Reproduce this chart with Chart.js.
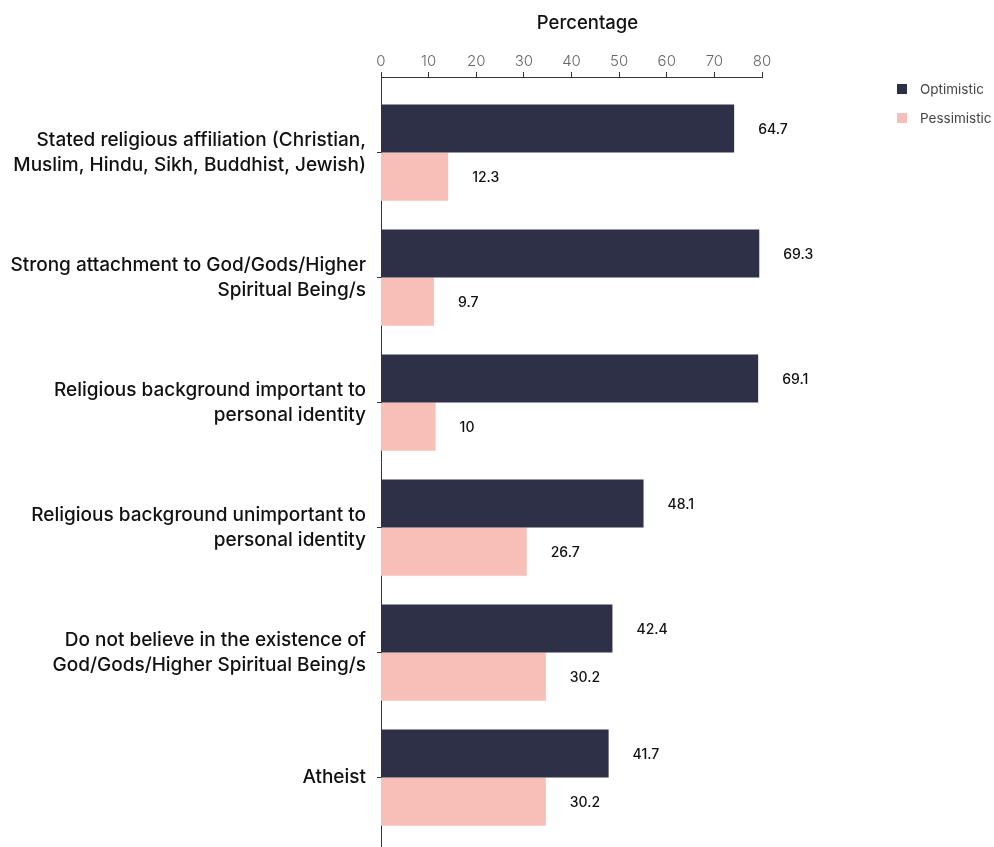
<!DOCTYPE html>
<html>
<head>
<meta charset="utf-8">
<script src="https://cdn.jsdelivr.net/npm/chart.js@4/dist/chart.umd.min.js"></script>
<style>
  html, body { margin: 0; padding: 0; background: #ffffff; }
  #wrap { position: relative; width: 994px; height: 847px; }
</style>
</head>
<body>
<div id="wrap"><canvas id="chart" width="994" height="847"></canvas></div>
<script>
// Religion groups and share (%) feeling optimistic / pessimistic
const categories = [
  ['Stated religious affiliation (Christian,', 'Muslim, Hindu, Sikh, Buddhist, Jewish)'],
  ['Strong attachment to God/Gods/Higher', 'Spiritual Being/s'],
  ['Religious background important to', 'personal identity'],
  ['Religious background unimportant to', 'personal identity'],
  ['Do not believe in the existence of', 'God/Gods/Higher Spiritual Being/s'],
  ['Atheist']
];
const seriesNames = ['Optimistic', 'Pessimistic'];
const optimistic = [64.7, 69.3, 69.1, 48.1, 42.4, 41.7];
const pessimistic = [12.3, 9.7, 10, 26.7, 30.2, 30.2];
const percentTicks = [0, 10, 20, 30, 40, 50, 60, 70, 80];
const axisTitle = 'Percentage';

// Range of the value scale the bars are measured on
const valueMax = 69.8;
// Range of the category index scale (0 = first group)
const indexMin = -0.604;
const indexMax = 5.556;

const COLORS = ['#2e3047', '#f8bfb9'];
const FONT = 'Inter, "Noto Sans", sans-serif';

const toPoints = vals => vals.map((v, i) => ({ x: v, y: i }));

// Value labels printed just past the end of each bar
const valueLabels = {
  id: 'valueLabels',
  afterDatasetsDraw(chart) {
    const ctx = chart.ctx;
    ctx.save();
    ctx.font = '500 14px ' + FONT;
    ctx.fillStyle = '#111111';
    ctx.textAlign = 'left';
    ctx.textBaseline = 'middle';
    chart.data.datasets.forEach((ds, di) => {
      const meta = chart.getDatasetMeta(di);
      meta.data.forEach((bar, i) => {
        ctx.fillText(String(ds.data[i].x), bar.x + 24, bar.y + 1);
      });
    });
    ctx.restore();
  }
};

// Axis heading and series key above the plot
const headings = {
  id: 'headings',
  afterDraw(chart) {
    const ctx = chart.ctx;
    const area = chart.chartArea;
    ctx.save();
    ctx.font = '500 18.5px ' + FONT;
    ctx.fillStyle = '#111111';
    ctx.textAlign = 'center';
    ctx.textBaseline = 'middle';
    ctx.fillText(axisTitle, (area.left + area.right) / 2 + 16, 23);

    ctx.font = '13.5px ' + FONT;
    ctx.textAlign = 'left';
    chart.data.datasets.forEach((ds, di) => {
      const y = 89 + di * 29;
      ctx.fillStyle = ds.backgroundColor;
      ctx.fillRect(897, y - 5, 10, 10);
      ctx.fillStyle = '#444444';
      ctx.fillText(ds.label, 920, y + 1);
    });
    ctx.restore();
  }
};

new Chart(document.getElementById('chart'), {
  type: 'bar',
  data: {
    datasets: [
      { label: seriesNames[0], data: toPoints(optimistic), backgroundColor: COLORS[0], xAxisID: 'x', yAxisID: 'y' },
      { label: seriesNames[1], data: toPoints(pessimistic), backgroundColor: COLORS[1], xAxisID: 'x', yAxisID: 'y' }
    ]
  },
  options: {
    responsive: false,
    animation: false,
    indexAxis: 'y',
    categoryPercentage: 0.77,
    barPercentage: 1.0,
    layout: { autoPadding: false, padding: { left: 0, right: 232, top: 0, bottom: 0 } },
    plugins: {
      legend: { display: false },
      tooltip: { enabled: false }
    },
    scales: {
      x: {
        type: 'linear',
        display: false,
        min: 0,
        max: valueMax
      },
      x2: {
        type: 'linear',
        position: 'top',
        min: percentTicks[0],
        max: percentTicks[percentTicks.length - 1],
        afterFit(scale) { scale.height = 77; scale.paddingLeft = 0; scale.paddingRight = 0; },
        afterBuildTicks(scale) { scale.ticks = percentTicks.map(v => ({ value: v })); },
        border: { display: true, color: '#333333', width: 1 },
        grid: { drawOnChartArea: false, drawTicks: true, tickLength: 5, color: '#333333' },
        ticks: {
          color: '#666666',
          font: { family: FONT, size: 15, weight: '300' },
          padding: 2,
          maxRotation: 0
        },
        title: { display: false }
      },
      y: {
        type: 'linear',
        position: 'left',
        reverse: true,
        offset: false,
        min: indexMin,
        max: indexMax,
        afterFit(scale) { scale.width = 381; scale.paddingTop = 0; scale.paddingBottom = 0; },
        afterBuildTicks(scale) { scale.ticks = categories.map((_, i) => ({ value: i })); },
        border: { display: true, color: '#333333', width: 1 },
        grid: { offset: false, drawOnChartArea: false, drawTicks: true, tickLength: 4, color: '#333333' },
        ticks: {
          color: '#111111',
          font: { family: FONT, size: 19, weight: '500', lineHeight: 1.32 },
          padding: 11,
          callback: (v) => categories[v]
        }
      }
    }
  },
  plugins: [valueLabels, headings]
});
</script>
</body>
</html>
